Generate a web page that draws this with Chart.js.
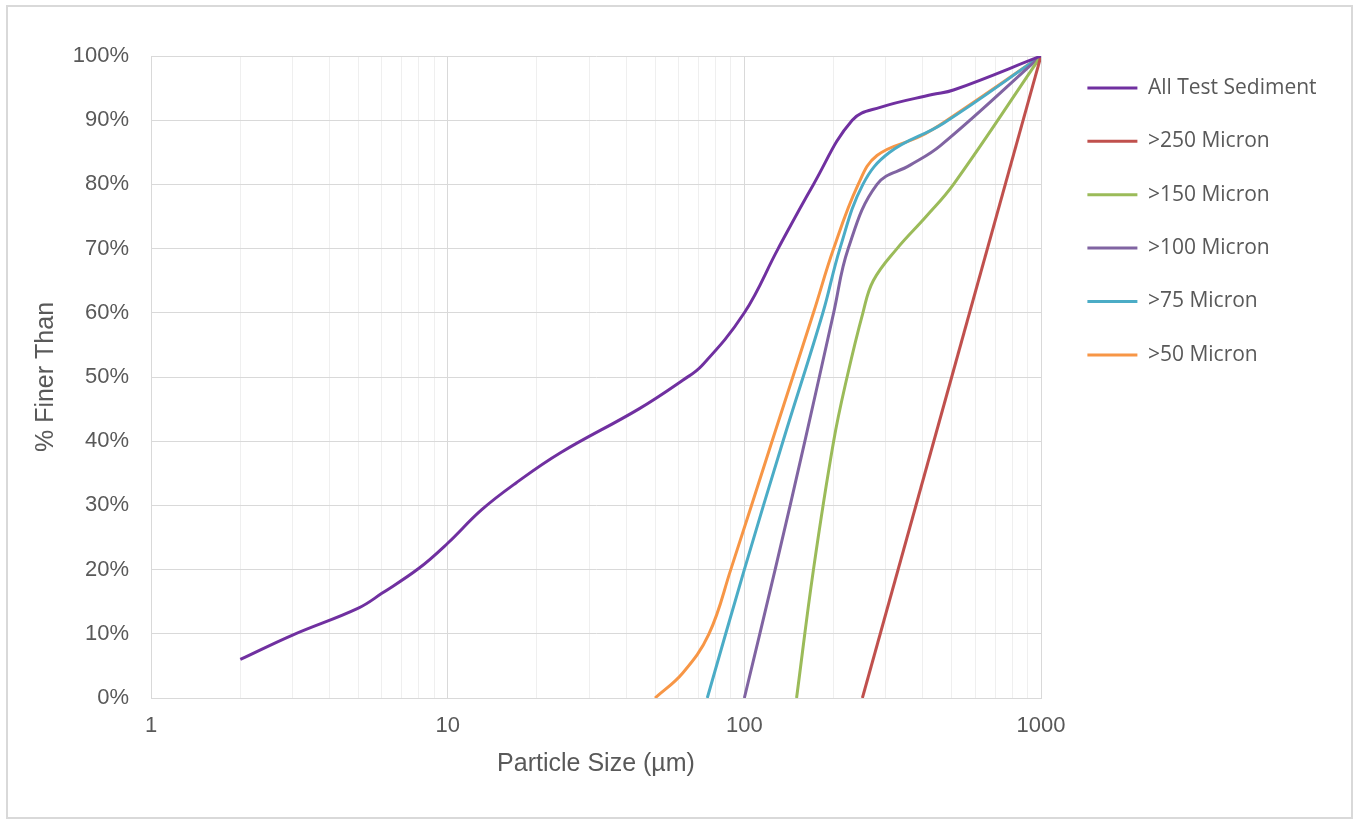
<!DOCTYPE html>
<html>
<head>
<meta charset="utf-8">
<title>Particle Size Distribution</title>
<script src="https://cdn.jsdelivr.net/npm/chart.js@4.4.1/dist/chart.umd.min.js"></script>
<style>
    html, body { margin: 0; padding: 0; background: #fff; }
    #wrap { position: relative; width: 1357px; height: 821px; }
    #frame { position: absolute; left: 6px; top: 5px; width: 1347px; height: 814px; border: 2px solid #d9d9d9; box-sizing: border-box; }
    #sizeChart { position: absolute; left: 0; top: 0; }
</style>
</head>
<body>
<div id="wrap">
    <div id="frame"></div>
    <canvas id="sizeChart" width="1357" height="821"></canvas>
</div>
<script>
// particle size (µm) vs % finer
const allSize = [2, 3, 5, 6, 8, 10, 13, 17, 24, 44, 62, 72, 100, 130, 171, 231, 287, 430, 507, 1000];
const allPct = [6, 9.8, 14, 16.3, 20.2, 24.1, 29.3, 33.5, 38.2, 45, 49.5, 51.8, 60, 70, 80, 90, 92, 94, 94.7, 100];

const s250Size = [250, 1000];
const s250Pct = [0, 100];

const s150Size = [150, 171, 200, 222, 251, 272, 327, 410, 507, 1000];
const s150Pct = [0, 20, 40, 50, 60, 65, 70, 75, 80, 100];

const s100Size = [100, 127, 160, 200, 224, 280, 362, 457, 1000];
const s100Pct = [0, 20, 40, 60, 70, 80, 83, 86, 100];

const s75Size = [75, 100, 135, 184, 210, 251, 309, 468, 1000];
const s75Pct = [0, 20, 40, 60, 70, 80, 85, 89.5, 100];

const s50Size = [50, 62, 76, 90, 124, 171, 200, 242, 280, 392, 482, 1000];
const s50Pct = [0, 3.9, 10, 20, 40, 60, 70, 80, 84.5, 87.5, 90, 100];

const seriesLabels = ['All Test Sediment', '>250 Micron', '>150 Micron', '>100 Micron', '>75 Micron', '>50 Micron'];
const seriesColors = ['#7030A0', '#C0504D', '#9BBB59', '#8064A2', '#4BACC6', '#F79646'];
const xTickLabels = [1, 10, 100, 1000];

const textColor = '#595959';
const gridMajor = '#d9d9d9';
const gridMinor = '#efefef';
const axisFont = { family: "'Liberation Sans', Arial, sans-serif", size: 22 };
const titleFont = { family: "'Liberation Sans', Arial, sans-serif", size: 25 };

function toPoints(sizes, pcts) {
    return sizes.map((s, i) => ({ x: s, y: pcts[i] }));
}

const seriesData = [
    toPoints(allSize, allPct),
    toPoints(s250Size, s250Pct),
    toPoints(s150Size, s150Pct),
    toPoints(s100Size, s100Pct),
    toPoints(s75Size, s75Pct),
    toPoints(s50Size, s50Pct)
];

const datasets = seriesLabels.map((label, i) => ({
    label: label,
    data: seriesData[i],
    borderColor: seriesColors[i],
    backgroundColor: seriesColors[i],
    borderWidth: 3,
    pointRadius: 0,
    tension: 0.4,
    fill: false
}));

// legend sits a bit right of the plot, like the Excel original
const legendNudge = {
    id: 'legendNudge',
    afterLayout(chart) {
        chart.legend.left += 14;
        chart.legend.right += 14;
    }
};

new Chart(document.getElementById('sizeChart'), {
    type: 'line',
    data: { datasets: datasets },
    options: {
        responsive: false,
        animation: false,
        layout: { padding: { top: 45, left: 20, right: 0, bottom: 0 } },
        scales: {
            x: {
                type: 'logarithmic',
                min: 1,
                max: 1000,
                afterBuildTicks(scale) {
                    const ticks = [];
                    for (let p = 1; p < 1000; p *= 10) {
                        for (let m = 1; m < 10; m++) ticks.push({ value: m * p });
                    }
                    ticks.push({ value: 1000 });
                    scale.ticks = ticks;
                },
                afterFit(scale) {
                    scale.height = 123;
                    scale.paddingRight = 316;
                },
                ticks: {
                    autoSkip: false,
                    maxRotation: 0,
                    minRotation: 0,
                    padding: 15,
                    color: textColor,
                    font: axisFont,
                    callback: (value) => xTickLabels.includes(value) ? String(value) : ''
                },
                grid: {
                    drawTicks: false,
                    color: (c) => (c.tick && xTickLabels.includes(c.tick.value)) ? gridMajor : gridMinor
                },
                border: { color: gridMajor },
                title: {
                    display: true,
                    text: 'Particle Size (µm)',
                    color: textColor,
                    font: titleFont,
                    padding: { top: 0, bottom: 42 }
                }
            },
            y: {
                min: 0,
                max: 100,
                afterFit(scale) {
                    scale.width = 131;
                    scale.paddingTop = 56;
                },
                ticks: {
                    stepSize: 10,
                    padding: 22,
                    color: textColor,
                    font: axisFont,
                    callback: (value) => value + '%'
                },
                grid: { drawTicks: false, color: gridMajor },
                border: { color: gridMajor },
                title: {
                    display: true,
                    text: '% Finer Than',
                    color: textColor,
                    font: titleFont,
                    padding: { top: 11, bottom: 0 }
                }
            }
        },
        plugins: {
            legend: {
                position: 'right',
                align: 'start',
                labels: {
                    boxWidth: 50,
                    boxHeight: 3,
                    padding: 32.4,
                    color: textColor,
                    font: { family: "'Open Sans', sans-serif", size: 21 },
                    generateLabels(chart) {
                        return Chart.defaults.plugins.legend.labels.generateLabels(chart)
                            .map(item => Object.assign(item, { fillStyle: item.strokeStyle, lineWidth: 0 }));
                    }
                }
            },
            tooltip: { enabled: false }
        }
    },
    plugins: [legendNudge]
});
</script>
</body>
</html>
